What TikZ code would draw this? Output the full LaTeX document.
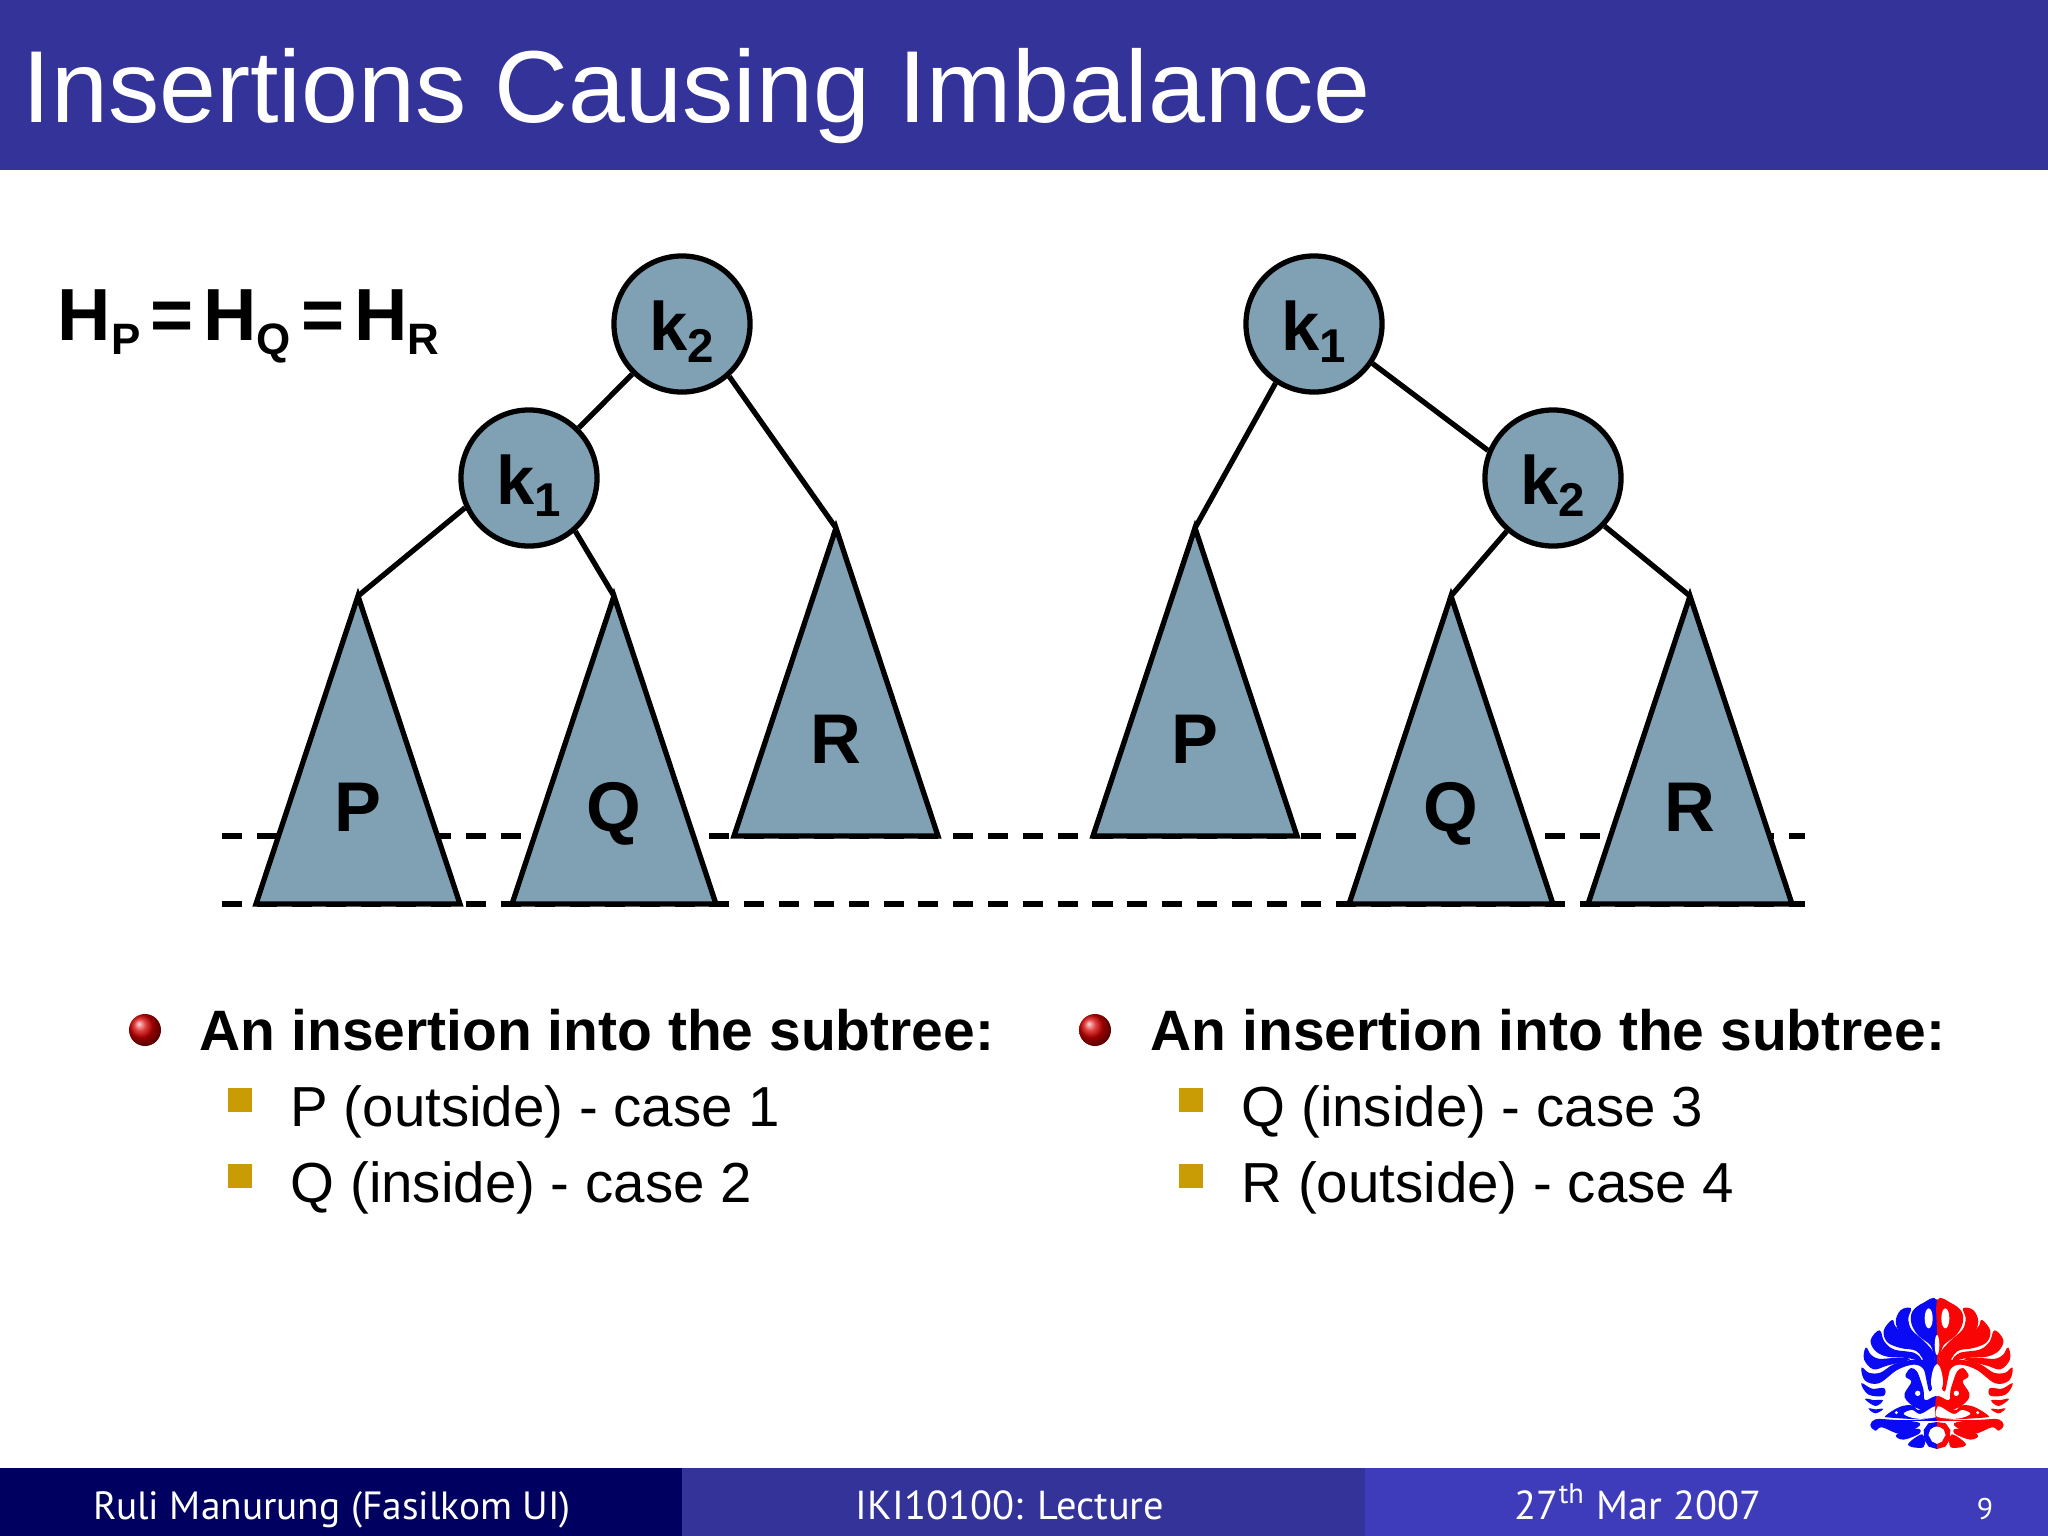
\documentclass[tikz,border=0pt]{standalone}
\usepackage{fontspec}
\setmainfont{Liberation Sans}
\newfontfamily\footfont{PT Sans}
\usetikzlibrary{positioning}
\definecolor{headblue}{RGB}{51,51,153}
\definecolor{footdark}{RGB}{0,0,96}
\definecolor{footlight}{RGB}{63,60,187}
\definecolor{treefill}{RGB}{128,160,180}
\definecolor{goldbox}{RGB}{201,155,5}
\definecolor{logoblue}{RGB}{10,10,245}
\definecolor{logored}{RGB}{250,5,5}
\tikzset{
	treeline/.style={draw=black,line width=1.5pt,miter limit=20},
	keynode/.style={circle,draw=black,line width=1.5pt,fill=treefill,minimum size=1.36cm,inner sep=0pt,text height=0.6cm,text depth=0.08cm,font=\fontsize{19.5}{24}\selectfont\bfseries},
	treelabel/.style={anchor=base,inner sep=0pt,font=\fontsize{20}{24}\selectfont\bfseries},
	dashline/.style={line width=1.5pt,dash pattern=on 0.2cm off 0.148cm},
	headtext/.style={anchor=base west,inner sep=0pt,font=\fontsize{16.2}{19}\selectfont\bfseries},
	subtext/.style={anchor=base west,inner sep=0pt,font=\fontsize{16.05}{18}\selectfont},
	foottext/.style={anchor=base,inner sep=0pt,text=white,font=\footfont\fontsize{11.5}{13}\selectfont},
	redball/.style={circle,inner sep=0pt,minimum size=0.32cm,ball color=red!85!black},
	goldsquare/.style={fill=goldbox,inner sep=0pt,minimum size=0.24cm}
}
\newcommand{\subtree}[4]{\draw[treeline,fill=treefill] (#2,#3) coordinate (#1) -- ++(-102,308) -- ++(204,0) -- cycle;
	\path (#1) ++(0,235) node[treelabel] (#1text) {#4};}
\newcommand{\keylabel}[2]{#1\raisebox{-3.5pt}{\fontsize{13.5}{15}\selectfont #2}}
\newcommand{\hsub}[1]{\raisebox{-4pt}{\fontsize{12.5}{15}\selectfont #1}}
\newcommand{\heq}{\hspace{0.1cm}=\hspace{0.1cm}}
\newcommand{\petal}[1]{\filldraw plot[smooth cycle,tension=0.6] coordinates {#1};}

\begin{document}
\begin{tikzpicture}[x=0.01cm,y=-0.01cm]
	\useasboundingbox (0,0) rectangle (2048,1536);
	% header and footer bars
	\fill[headblue] (0,0) rectangle (2048,170);
	\fill[footdark] (0,1468) rectangle (682,1536);
	\fill[headblue] (682,1468) rectangle (1365,1536);
	\fill[footlight] (1365,1468) rectangle (2048,1536);
	\node[anchor=base west,inner sep=0pt,text=white,font=\fontsize{29.1}{32}\selectfont] (title) at (22,122) {Insertions Causing Imbalance};

	% height levels
	\coordinate (upA) at (222,836); \coordinate (upB) at (1805,836);
	\coordinate (lowA) at (222,904); \coordinate (lowB) at (1805,904);
	\draw[dashline] (upA) -- (upB);
	\draw[dashline] (lowA) -- (lowB);

	\node[anchor=base west,inner sep=0pt,font=\fontsize{21}{24}\selectfont\bfseries] (heights) at (57,340) {H\hsub{P}\heq H\hsub{Q}\heq H\hsub{R}};

	% left tree
	\subtree{leftP}{358}{596}{P}
	\subtree{leftQ}{614}{596}{Q}
	\subtree{leftR}{836}{528}{R}
	\node[keynode] (leftroot) at (682,324) {\keylabel{k}{2}};
	\node[keynode] (leftkid) at (529,478) {\keylabel{k}{1}};
	\draw[treeline] (leftroot) -- (leftkid);
	\draw[treeline] (leftroot.-48) -- (leftR);
	\draw[treeline] (leftkid.205) -- (leftP);
	\draw[treeline] (leftkid.-49) -- (leftQ);

	% right tree
	\subtree{rightP}{1195}{528}{P}
	\subtree{rightQ}{1451}{596}{Q}
	\subtree{rightR}{1690}{596}{R}
	\node[keynode] (rightroot) at (1314,324) {\keylabel{k}{1}};
	\node[keynode] (rightkid) at (1553,478) {\keylabel{k}{2}};
	\draw[treeline] (rightroot.-34) -- (rightkid.157);
	\draw[treeline] (rightroot.237) -- (rightP);
	\draw[treeline] (rightkid.229) -- (rightQ);
	\draw[treeline] (rightkid.-43) -- (rightR);

	% bullet lists
	\node[redball] (ballA) at (145,1030) {};
	\node[headtext] (headA) at (199,1050) {An insertion into the subtree:};
	\node[goldsquare] (boxA) at (240,1100) {};
	\node[subtext] (itemA) at (290,1126) {P (outside) - case 1};
	\node[goldsquare] (boxB) at (240,1176) {};
	\node[subtext] (itemB) at (290,1202) {Q (inside) - case 2};
	\node[redball] (ballB) at (1095,1030) {};
	\node[headtext] (headB) at (1150,1050) {An insertion into the subtree:};
	\node[goldsquare] (boxC) at (1191,1100) {};
	\node[subtext] (itemC) at (1241,1126) {Q (inside) - case 3};
	\node[goldsquare] (boxD) at (1191,1176) {};
	\node[subtext] (itemD) at (1241,1202) {R (outside) - case 4};

	% footer
	\node[foottext,font=\footfont\fontsize{11.2}{13}\selectfont] (footA) at (332,1519) {Ruli Manurung (Fasilkom UI)};
	\node[foottext] (footB) at (1010,1519) {IKI10100: Lecture};
	\node[foottext] (footC) at (1638,1519) {27\textsuperscript{th} Mar 2007};
	\node[foottext,font=\footfont\fontsize{8.5}{10}\selectfont] (footD) at (1985,1519) {9};

	% logo, one half drawn twice
	\foreach \sgn/\col in {1/logoblue,-1/logored}{
		\begin{scope}[shift={(1937,1270)},xscale=\sgn,scale=0.3333,fill=\col,draw=\col,line width=0.35pt]
			\fill (0,88) -- (-8,92) -- (-8,295) -- (0,295) -- cycle;
			\petal{(-2,92) (-40,100) (-72,125) (-75,160) (-55,195) (-18,225) (-6,260) (-3,200)}
			\petal{(-80,116) (-108,122) (-122,155) (-106,190) (-60,225) (-28,262) (-10,295) (-12,250) (-40,215) (-78,180) (-88,145)}
			\petal{(-135,152) (-158,182) (-148,215) (-110,232) (-60,242) (-30,282) (-22,262) (-60,222) (-105,190) (-128,168)}
			\petal{(-173,183) (-197,210) (-185,240) (-150,258) (-90,262) (-50,270) (-70,250) (-130,240) (-160,215)}
			\petal{(-213,235) (-217,268) (-190,296) (-150,285) (-85,268) (-130,266) (-175,268) (-200,255)}
			\petal{(-225,295) (-215,330) (-175,338) (-120,298) (-70,282) (-40,295) (-30,330) (-22,362) (-12,340) (-10,300) (-4,282) (-30,272) (-80,272) (-130,285) (-170,310) (-205,310)}
			\petal{(-225,342) (-205,372) (-162,376) (-160,356) (-195,358)}
			\petal{(-213,388) (-185,406) (-165,392) (-190,392)}
			\petal{(-202,417) (-185,428) (-165,418) (-185,420)}
			\petal{(-90,310) (-78,296) (-62,305) (-50,335) (-42,362) (-40,388) (-30,392) (-10,382) (0,382) (0,405) (-30,418) (-62,412) (-90,390) (-95,370) (-75,335) (-92,320)}
			\petal{(-150,436) (-110,412) (-75,408) (-55,422) (-20,398) (0,388) (0,447) (-40,447) (-140,441)}
			\fill[white] plot[smooth cycle,tension=0.6] coordinates {(-100,432) (-75,420) (-50,432) (-10,410) (0,414) (0,440) (-60,446)};
			\fill[white] (-58,370) circle (8);
			\fill[white] (-122,428) circle (5);
			\fill[white] (-25,145) ellipse (12 and 30);
			\fill (0,450) rectangle (-180,454);
			\petal{(-198,465) (-185,450) (-150,450) (-60,458) (-62,472) (-110,490) (-165,470) (-185,480)}
			\petal{(-120,495) (-60,478) (-55,490) (-100,507)}
			\petal{(-85,524) (-45,495) (-42,530)}
			\fill (0,456) -- (-26,460) -- (-40,480) -- (-38,510) -- (-25,530) -- (0,537) -- (0,522) -- (-15,515) -- (-26,495) -- (-20,478) -- (0,470) -- cycle;
			\fill[white] (0,490) ellipse (22 and 20);
		\end{scope}
	}
	\fill[white] (1937,1345) ellipse (2.3 and 10);
	\fill[white] plot[smooth cycle,tension=0.6] coordinates {(1937,1364) (1933,1370) (1931,1383) (1934,1391) (1937,1386) (1940,1391) (1943,1383) (1941,1370)};
\end{tikzpicture}
\end{document}
